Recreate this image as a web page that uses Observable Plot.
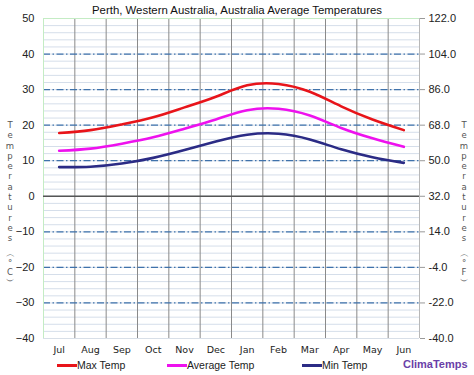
<!DOCTYPE html>
<html>
<head>
<meta charset="utf-8">
<script src="https://cdn.jsdelivr.net/npm/d3@7"></script>
<script src="https://cdn.jsdelivr.net/npm/@observablehq/plot@0.6"></script>
<style>
  html, body { margin: 0; padding: 0; background: #fff; }
  #wrap { position: relative; width: 474px; height: 375px; overflow: hidden; font-family: "Liberation Sans", Arial, sans-serif; }
  #wrap svg { position: absolute; left: 0; top: 0; }
  .title { position: absolute; left: 0; top: 4px; width: 474px; text-align: center; font-size: 11.4px; color: #111; }
  .vlab { position: absolute; width: 14px; text-align: center; font-family: "DejaVu Sans", Verdana, sans-serif; font-size: 8.5px; color: #555; line-height: 10.3px; }
  .vlab .p { line-height: 9px; margin-top: 6px; }
  .legend { position: absolute; top: 358px; left: 0; width: 474px; height: 14px; font-size: 10.5px; color: #222; }
  .legend .item { position: absolute; top: 0; display: flex; align-items: center; height: 14px; }
  .legend .sw { display: inline-block; width: 20px; height: 3px; }
  .brand { position: absolute; top: 358px; left: 403px; font-size: 11px; font-weight: bold; color: #6a3fa8; font-family: "Liberation Sans", Arial, sans-serif; }
</style>
</head>
<body>
<div id="wrap"></div>
<script>
const months = ["Jul","Aug","Sep","Oct","Nov","Dec","Jan","Feb","Mar","Apr","May","Jun"];
const maxTemp = [17.8, 18.6, 20.2, 22.2, 25.0, 28.0, 31.2, 31.6, 29.4, 25.3, 21.6, 18.6];
const avgTemp = [12.8, 13.4, 14.8, 16.6, 19.0, 21.6, 24.2, 24.6, 22.7, 19.2, 16.3, 13.9];
const minTemp = [8.2, 8.3, 9.2, 10.8, 13.0, 15.4, 17.3, 17.6, 16.0, 13.2, 11.0, 9.4];
const seriesNames = ["Max Temp", "Average Temp", "Min Temp"];
const seriesColors = ["#e8141a", "#ee11ee", "#2b2b85"];
const celsiusTicks = [50, 40, 30, 20, 10, 0, -10, -20, -30, -40];
const majorDashed = [40, 30, 20, 10, -10, -20, -30];
const minorLines = d3.range(-38, 50, 2);
const title = "Perth, Western Australia, Australia Average Temperatures";

const idx = months.map((m, i) => i);
const rows = [];
[maxTemp, avgTemp, minTemp].forEach((arr, s) => arr.forEach((v, i) => rows.push({series: seriesNames[s], i, v})));
const boundaries = d3.range(0.5, 11.5, 1);

const chart = Plot.plot({
  width: 474,
  height: 375,
  marginLeft: 43,
  marginRight: 55,
  marginTop: 18,
  marginBottom: 37,
  style: {fontFamily: "Liberation Sans, Arial, sans-serif", fontSize: "11px", color: "#222", background: "transparent"},
  x: {domain: [-0.5, 11.5], axis: null, label: null},
  y: {domain: [-40, 50], axis: null, label: null},
  color: {domain: seriesNames, range: seriesColors},
  marks: [
    Plot.ruleY(minorLines, {stroke: "#d5deea", strokeWidth: 1}),
    Plot.ruleX(boundaries, {stroke: "#8a8a8a", strokeWidth: 1}),
    Plot.ruleY(majorDashed, {stroke: "#3f72ab", strokeWidth: 1.3, strokeDasharray: "7,2.5,1.5,2.5"}),
    Plot.ruleY([50], {stroke: "#c4ecc4", strokeWidth: 1}),
    Plot.ruleY([-40], {stroke: "#d8dfe8", strokeWidth: 1}),
    Plot.ruleX([-0.5], {stroke: "#c4ecc4", strokeWidth: 1}),
    Plot.ruleX([11.5], {stroke: "#b8b8b8", strokeWidth: 1}),
    Plot.ruleY([0], {stroke: "#555", strokeWidth: 1.4}),
    Plot.line(rows, {x: "i", y: "v", z: "series", stroke: "series", strokeWidth: 2.6, curve: "natural"}),
    Plot.axisY({anchor: "left", ticks: celsiusTicks, tickSize: 0, tickPadding: 9, fontSize: 11, label: null}),
    Plot.axisY({anchor: "right", ticks: celsiusTicks, tickSize: 5, tickPadding: 4, stroke: "#999", fontSize: 11, label: null,
      tickFormat: d => (d * 9 / 5 + 32).toFixed(1)}),
    Plot.axisX({ticks: idx, tickSize: 0, tickPadding: 8, tickFormat: i => months[i], label: null,
      fontFamily: "DejaVu Sans, Verdana, sans-serif", fontSize: 9.5})
  ]
});

const wrap = document.getElementById("wrap");
wrap.appendChild(chart);

const t = document.createElement("div");
t.className = "title";
t.textContent = title;
wrap.appendChild(t);

function vlabel(left, unit) {
  const d = document.createElement("div");
  d.className = "vlab";
  d.style.left = left + "px";
  d.style.top = "120px";
  const word = "Temperatures".split("").map(c => `<div>${c}</div>`).join("");
  const par = ["︵", "°", unit, "︶"].map(c => `<div>${c}</div>`).join("");
  d.innerHTML = word + `<div class="p">${par}</div>`;
  wrap.appendChild(d);
}
vlabel(3, "C");
vlabel(457, "F");

const leg = document.createElement("div");
leg.className = "legend";
const legPos = [57, 167, 302];
seriesNames.forEach((n, s) => {
  const it = document.createElement("div");
  it.className = "item";
  it.style.left = legPos[s] + "px";
  it.innerHTML = `<span class="sw" style="background:${seriesColors[s]}"></span><span>${n}</span>`;
  leg.appendChild(it);
});
wrap.appendChild(leg);

const b = document.createElement("div");
b.className = "brand";
b.textContent = "ClimaTemps";
wrap.appendChild(b);
</script>
</body>
</html>
